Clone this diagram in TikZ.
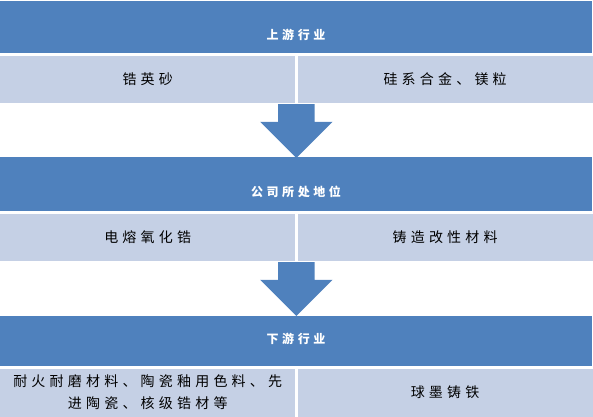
\documentclass[tikz,border=0pt]{standalone}
\usepackage{fontspec}
\newfontfamily\cjk[LetterSpace=30]{Noto Sans CJK SC}
\usetikzlibrary{shapes.arrows,positioning,calc}
\definecolor{bandblue}{RGB}{79,129,189}
\definecolor{celllight}{RGB}{197,208,229}

\begin{document}
\begin{tikzpicture}[x=1pt, y=-1pt,
    band/.style={rectangle, fill=bandblue, minimum width=592pt, inner sep=0pt, anchor=north west},
    head/.style={text=white, inner sep=0pt, font=\cjk\bfseries\fontsize{12}{14}\selectfont},
    cell/.style={rectangle, fill=celllight, minimum width=295pt, inner sep=0pt, align=center, font=\cjk\fontsize{14}{22}\selectfont},
    downarrow/.style={single arrow, fill=bandblue, rotate=-90, inner xsep=0pt, inner ysep=18pt, minimum height=54pt, single arrow head extend=18pt, anchor=tail}
]
\useasboundingbox (0,0) rectangle (593,416);

% Bands
\node[band, minimum height=52pt] (upband) at (0,1) {};
\node[band, minimum height=54pt] (midband) at (0,157) {};
\node[band, minimum height=50pt] (downband) at (0,316) {};

% Headings
\node[head] (uptext) at (296,35) {上游行业};
\node[head] (midtext) at (296,192) {公司所处地位};
\node[head] (downtext) at (296,339) {下游行业};

% Cells
\node[cell, minimum height=47pt, below right=2pt and 0pt of upband.south west] (upL) {锆英砂};
\node[cell, minimum height=47pt, right=2pt of upL] (upR) {硅系合金、镁粒};
\node[cell, minimum height=47pt, below right=2pt and 0pt of midband.south west] (midL) {电熔氧化锆};
\node[cell, minimum height=47pt, right=2pt of midL] (midR) {铸造改性材料};
\node[cell, minimum height=48pt, below right=2pt and 0pt of downband.south west] (downL) {耐火耐磨材料、陶瓷釉用色料、先\\进陶瓷、核级锆材等};
\node[cell, minimum height=48pt, right=2pt of downL] (downR) {球墨铸铁};

% Arrows
\node[downarrow] (arrowA) at ($(upL.south east)+(1,1)$) {};
\node[downarrow] (arrowB) at ($(midL.south east)+(1,1)$) {};

\end{tikzpicture}
\end{document}
